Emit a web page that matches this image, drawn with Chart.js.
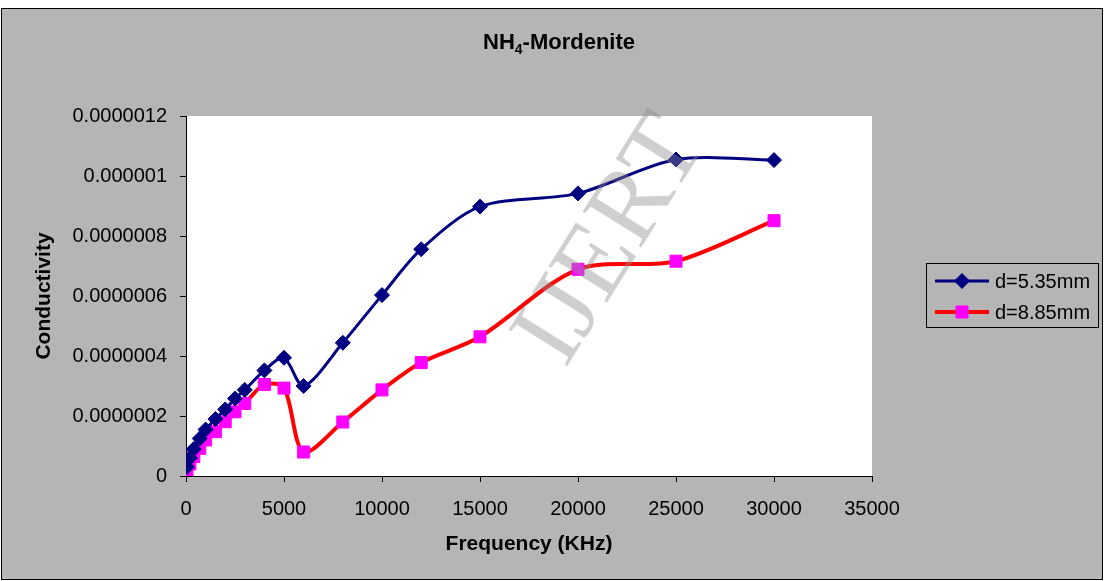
<!DOCTYPE html>
<html>
<head>
<meta charset="utf-8">
<title>NH4-Mordenite conductivity</title>
<script src="https://cdn.jsdelivr.net/npm/chart.js@4.4.0/dist/chart.umd.min.js"></script>
<style>
  html, body { margin: 0; padding: 0; background: #ffffff; overflow: hidden; }
  #wrap { position: absolute; left: 0; top: 0; width: 1104px; height: 581px; }
</style>
</head>
<body>
<div id="wrap"><canvas id="chart" width="1104" height="581"></canvas></div>
<script>
// Frequency (KHz) of each measurement
const frequencies = [50, 200, 400, 700, 1000, 1500, 2000, 2500, 3000, 4000, 5000, 6000, 8000, 10000, 12000, 15000, 20000, 25000, 30000];

// Conductivity for the d = 5.35 mm sample
const conductivityD535 = [3.0e-8, 6.0e-8, 9.0e-8, 1.25e-7, 1.55e-7, 1.9e-7, 2.22e-7, 2.58e-7, 2.87e-7, 3.52e-7, 3.94e-7, 3.0e-7, 4.44e-7, 6.03e-7, 7.56e-7, 8.98e-7, 9.42e-7, 1.055e-6, 1.053e-6];

// Conductivity for the d = 8.85 mm sample
const conductivityD885 = [1.5e-8, 4.0e-8, 6.5e-8, 9.2e-8, 1.2e-7, 1.48e-7, 1.81e-7, 2.14e-7, 2.42e-7, 3.05e-7, 2.93e-7, 8.0e-8, 1.8e-7, 2.87e-7, 3.78e-7, 4.64e-7, 6.89e-7, 7.16e-7, 8.51e-7];

const seriesLabels = ['d=5.35mm', 'd=8.85mm'];
const xTickLabels = ['0', '5000', '10000', '15000', '20000', '25000', '30000', '35000'];
const yTickLabels = ['0', '0.0000002', '0.0000004', '0.0000006', '0.0000008', '0.000001', '0.0000012'];

const FONT = "'Liberation Sans', Arial, sans-serif";
const PANEL_GRAY = '#b5b5b5';

function toPoints(xs, ys) {
  return xs.map((x, i) => ({ x: x, y: ys[i] }));
}

// Gray panel, outer frame and white plotting area
const backgroundPlugin = {
  id: 'panelBackground',
  beforeDraw(chart) {
    const ctx = chart.ctx;
    const area = chart.chartArea;
    ctx.save();
    ctx.fillStyle = '#ffffff';
    ctx.fillRect(0, 0, chart.width, chart.height);
    ctx.fillStyle = PANEL_GRAY;
    ctx.fillRect(1, 8, chart.width - 2, chart.height - 9);
    ctx.strokeStyle = '#000000';
    ctx.lineWidth = 1;
    ctx.strokeRect(1.5, 8.5, chart.width - 3, chart.height - 10);
    ctx.fillStyle = '#ffffff';
    ctx.fillRect(area.left, area.top, area.right - area.left, area.bottom - area.top);
    ctx.restore();
  }
};

// Chart heading with a subscripted "4"
const headingPlugin = {
  id: 'heading',
  afterDraw(chart) {
    const ctx = chart.ctx;
    const main = 'bold 22px ' + FONT;
    const sub = 'bold 14px ' + FONT;
    const parts = [
      { t: 'NH', f: main, dy: 0 },
      { t: '4', f: sub, dy: 5 },
      { t: '-Mordenite', f: main, dy: 0 }
    ];
    ctx.save();
    let total = 0;
    parts.forEach(p => { ctx.font = p.f; p.w = ctx.measureText(p.t).width; total += p.w; });
    let x = 559 - total / 2;
    const baseline = 49;
    ctx.fillStyle = '#000000';
    ctx.textBaseline = 'alphabetic';
    ctx.textAlign = 'left';
    parts.forEach(p => { ctx.font = p.f; ctx.fillText(p.t, x, baseline + p.dy); x += p.w; });
    ctx.restore();
  }
};

// Publisher mark laid across the plot
const watermarkPlugin = {
  id: 'watermark',
  afterDatasetsDraw(chart) {
    const ctx = chart.ctx;
    ctx.save();
    ctx.translate(636, 256);
    ctx.rotate(-58 * Math.PI / 180);
    ctx.font = "105px 'Liberation Serif', 'Times New Roman', serif";
    ctx.fillStyle = 'rgba(140,140,140,0.42)';
    ctx.textAlign = 'center';
    ctx.textBaseline = 'alphabetic';
    ctx.fillText('IJERT', 0, 0);
    ctx.restore();
  }
};

// Boxed legend at the right of the plot
const boxLegendPlugin = {
  id: 'boxLegend',
  afterDraw(chart) {
    const ctx = chart.ctx;
    const box = { x: 926.5, y: 263.5, w: 172, h: 64 };
    ctx.save();
    ctx.strokeStyle = '#000000';
    ctx.lineWidth = 1;
    ctx.strokeRect(box.x, box.y, box.w, box.h);
    chart.data.datasets.forEach((ds, i) => {
      const cy = 281 + i * 31;
      ctx.strokeStyle = ds.borderColor;
      ctx.lineWidth = ds.borderWidth;
      ctx.beginPath();
      ctx.moveTo(935, cy);
      ctx.lineTo(989, cy);
      ctx.stroke();
      ctx.fillStyle = ds.pointBackgroundColor;
      ctx.strokeStyle = ds.pointBorderColor;
      ctx.lineWidth = 1;
      ctx.beginPath();
      if (ds.pointStyle === 'rectRot') {
        const r = ds.pointRadius;
        ctx.moveTo(962, cy - r); ctx.lineTo(962 + r, cy); ctx.lineTo(962, cy + r); ctx.lineTo(962 - r, cy);
      } else {
        const s = Math.SQRT1_2 * ds.pointRadius;
        ctx.rect(962 - s, cy - s, 2 * s, 2 * s);
      }
      ctx.closePath();
      ctx.fill();
      ctx.stroke();
      ctx.fillStyle = '#000000';
      ctx.font = '20px ' + FONT;
      ctx.textAlign = 'left';
      ctx.textBaseline = 'middle';
      ctx.fillText(ds.label, 995, cy + 1);
    });
    ctx.restore();
  }
};

const ctx = document.getElementById('chart').getContext('2d');
new Chart(ctx, {
  type: 'line',
  data: {
    datasets: [
      {
        label: seriesLabels[0],
        data: toPoints(frequencies, conductivityD535),
        borderColor: '#000080',
        backgroundColor: '#000080',
        borderWidth: 3,
        pointStyle: 'rectRot',
        pointRadius: 7.5,
        pointBackgroundColor: '#000080',
        pointBorderColor: '#000080',
        pointBorderWidth: 1,
        tension: 0.3,
        fill: false
      },
      {
        label: seriesLabels[1],
        data: toPoints(frequencies, conductivityD885),
        borderColor: '#ff0000',
        backgroundColor: '#ff00ff',
        borderWidth: 4,
        pointStyle: 'rect',
        pointRadius: 8.5,
        pointBackgroundColor: '#ff00ff',
        pointBorderColor: '#ff00ff',
        pointBorderWidth: 1,
        tension: 0.3,
        fill: false
      }
    ]
  },
  options: {
    responsive: false,
    animation: false,
    devicePixelRatio: 1,
    layout: { padding: { left: 0, right: 232, top: 116, bottom: 0 } },
    plugins: {
      legend: { display: false },
      title: { display: false },
      tooltip: { enabled: false }
    },
    scales: {
      x: {
        type: 'linear',
        min: 0,
        max: 35000,
        afterFit(scale) { scale.height = 105; },
        ticks: {
          stepSize: 5000,
          color: '#000000',
          font: { family: FONT, size: 20 },
          padding: 15,
          maxRotation: 0,
          autoSkip: false,
          callback: (v, i) => xTickLabels[i]
        },
        grid: { drawOnChartArea: false, drawTicks: true, tickLength: 6, color: '#000000' },
        border: { color: '#000000', width: 1 },
        title: {
          display: true,
          text: 'Frequency (KHz)',
          color: '#000000',
          font: { family: FONT, size: 21, weight: 'bold' },
          padding: { top: 4, bottom: 24 }
        }
      },
      y: {
        type: 'linear',
        min: 0,
        max: 1.2e-6,
        afterFit(scale) { scale.width = 186; },
        ticks: {
          stepSize: 2e-7,
          color: '#000000',
          font: { family: FONT, size: 20 },
          padding: 13,
          autoSkip: false,
          callback: (v, i) => yTickLabels[i]
        },
        grid: { drawOnChartArea: false, drawTicks: true, tickLength: 6, color: '#000000' },
        border: { color: '#000000', width: 1 },
        title: {
          display: true,
          text: 'Conductivity',
          color: '#000000',
          font: { family: FONT, size: 21, weight: 'bold' },
          padding: { top: 32, bottom: 4 }
        }
      }
    }
  },
  plugins: [backgroundPlugin, watermarkPlugin, headingPlugin, boxLegendPlugin]
});
</script>
</body>
</html>
